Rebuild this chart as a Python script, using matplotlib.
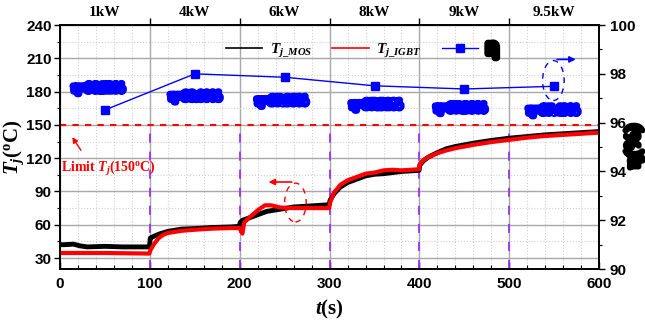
import matplotlib
matplotlib.use("Agg")
import matplotlib.pyplot as plt
import matplotlib.patheffects as pe
from matplotlib.lines import Line2D
from matplotlib.patches import Ellipse
from matplotlib.ticker import MultipleLocator, FixedLocator, NullFormatter, FixedFormatter

plt.rcParams['mathtext.fontset'] = 'custom'
plt.rcParams['mathtext.rm'] = 'Liberation Serif:bold'
plt.rcParams['mathtext.it'] = 'Liberation Serif:italic:bold'
plt.rcParams['mathtext.bf'] = 'Liberation Serif:bold'

sans = ['Liberation Sans Narrow', 'Liberation Sans', 'DejaVu Sans']
serif = ['Liberation Serif', 'DejaVu Serif']

# junction temperature of the MOSFET
t_mos = [0, 5, 15, 22, 30, 50, 70, 90, 99.5,
         100.5, 103, 110, 120, 135, 150, 170, 190, 199.5,
         200.5, 203, 210, 220, 230, 245, 260, 280, 299.5,
         300.5, 305, 312, 320, 330, 340, 350, 360, 370, 380, 390, 399.5,
         400.5, 405, 410, 420, 430, 440, 460, 480, 500, 520, 540, 560, 580, 600]
tj_mos = [42, 42, 42.5, 41, 40, 40.5, 40, 40, 40,
          48, 49, 51.5, 54, 56, 56.5, 57.5, 58, 58.5,
          62, 64, 66, 69, 72, 74, 76, 77, 78,
          82, 88, 94, 98, 101, 104, 105.5, 106, 107, 108, 108.5, 109,
          114, 118, 121, 125, 128.5, 130.5, 133.5, 136, 138, 139.5, 141, 142, 143, 144]

# junction temperature of the IGBT
t_igbt = [0, 50, 99.5,
          100.5, 105, 110, 115, 120, 135, 150, 170, 190, 199.5,
          201, 203, 205, 210, 220, 228, 235, 245, 260, 280, 299.5,
          300.5, 305, 312, 320, 330, 340, 350, 360, 370, 380, 390, 399.5,
          400.5, 405, 410, 420, 430, 440, 460, 480, 500, 520, 540, 560, 580, 600]
tj_igbt = [34.5, 34.5, 34,
           37, 43, 48, 51, 52.5, 54.5, 55.5, 56.5, 57, 57,
           55, 52, 62, 66, 73, 77.5, 77.5, 75.5, 75, 75, 75,
           80, 89, 96, 100, 103, 106, 107, 109, 109.5, 109, 109.5, 110,
           115, 118.5, 121, 124.5, 127, 129, 132, 134.5, 136.5, 138.5, 140, 141, 142, 143]

# efficiency at each load step
t_eff = [50, 150, 250, 350, 450, 550]
eff = [96.52, 98.00, 97.86, 97.51, 97.38, 97.49]
eff_label_x = [43, 151, 247, 352, 446, 549]
eff_label_y = [183, 175.5, 171.5, 168, 165, 163]

power_labels = ['1kW', '4kW', '6kW', '8kW', '9kW', '9.5kW']
step_edges = [100, 200, 300, 400, 500]
t_limit = 150

fig = plt.figure(figsize=(6.45, 3.25), dpi=100)
ax = fig.add_axes([0.093, 0.172, 0.836, 0.751])
ax2 = ax.twinx()

ax.set_xlim(0, 600)
ax.set_ylim(20, 240)
ax2.set_ylim(90, 100)

# grids
ax.xaxis.set_major_locator(MultipleLocator(100))
ax.xaxis.set_minor_locator(MultipleLocator(20))
ax.yaxis.set_major_locator(FixedLocator(range(30, 241, 30)))
ax.yaxis.set_minor_locator(FixedLocator(range(45, 241, 30)))
ax.grid(which='major', color='#a8a8a8', lw=1.0, ls='-')
ax.grid(which='minor', color='#d0d0d0', lw=0.8, ls=':')
ax.set_axisbelow(True)

# load-step boundaries and the temperature limit
for x in step_edges:
    ax.plot([x, x], [20, t_limit], color='#9b30ff', lw=1.3, ls=(0, (5, 5)), zorder=2)
ax.axhline(t_limit, color='red', lw=1.5, ls=(0, (3, 3)), zorder=2)

ax.plot(t_mos, tj_mos, color='black', lw=3.5, solid_joinstyle='round', zorder=3)
ax.plot(t_igbt, tj_igbt, color='red', lw=3.0, solid_joinstyle='round', zorder=4)

ax2.plot(t_eff, eff, color='blue', lw=1.0, marker='s', ms=6, zorder=5)

for x, y, v in zip(eff_label_x, eff_label_y, eff):
    ax.text(x, y, 'η=%.2f%%' % v, color='blue', fontsize=8.5, fontweight='bold',
            ha='center', va='center', family=serif,
            path_effects=[pe.withStroke(linewidth=5, foreground='blue')])

# annotations
ax.text(1, 111, r'Limit $T_j$(150$^{\rm o}$C)', color='red', fontsize=10,
        fontweight='bold', family=serif, ha='left', va='center')
ax.annotate('', xy=(12, 141), xytext=(25, 125),
            arrowprops=dict(arrowstyle='-|>', color='red', lw=1.0, mutation_scale=8))
ax.add_patch(Ellipse((262, 80), 24, 35, fill=False, ec='red', lw=1.0, ls=(0, (4, 4)), zorder=6))
ax.annotate('', xy=(229, 98.5), xytext=(261, 98.5),
            arrowprops=dict(arrowstyle='-|>', color='red', lw=1.2, mutation_scale=9))
ax.add_patch(Ellipse((549, 190), 24, 36, fill=False, ec='blue', lw=1.0, ls=(0, (4, 4)), zorder=6))
ax.annotate('', xy=(577, 209), xytext=(550, 209),
            arrowprops=dict(arrowstyle='-|>', color='blue', lw=1.2, mutation_scale=9))

# ticks
ax.tick_params(axis='x', which='major', direction='in', length=5, width=1, pad=6)
ax.tick_params(axis='x', which='minor', direction='in', length=3, width=0.8)
ax.tick_params(axis='y', which='major', direction='out', length=4, width=1, pad=2)
ax.tick_params(axis='y', which='minor', direction='out', length=2.5, width=0.8)
ax2.yaxis.set_major_locator(MultipleLocator(2))
ax2.yaxis.set_minor_locator(MultipleLocator(1))
ax2.tick_params(axis='y', which='major', direction='out', length=4, width=1)
ax2.tick_params(axis='y', which='minor', direction='out', length=2.5, width=0.8)
for a in (ax, ax2):
    for lab in a.get_xticklabels() + a.get_yticklabels():
        lab.set_family(sans)
        lab.set_fontweight('bold')
        lab.set_fontsize(11)
    for s in a.spines.values():
        s.set_linewidth(1.2)

# power levels along the top
top = ax.secondary_xaxis('top')
top.xaxis.set_major_locator(FixedLocator(step_edges))
top.xaxis.set_major_formatter(NullFormatter())
top.xaxis.set_minor_locator(FixedLocator(t_eff))
top.xaxis.set_minor_formatter(FixedFormatter(power_labels))
top.tick_params(which='major', direction='out', length=5, width=1)
top.tick_params(which='minor', length=0, pad=4)
for lab in top.get_xticklabels(minor=True):
    lab.set_family(serif)
    lab.set_fontweight('bold')
    lab.set_fontsize(11)

ax.set_xlabel(r'$t$(s)', fontsize=15, family=serif, fontweight='bold', labelpad=5)
ax.set_ylabel(r'$T_j$($^{\rm o}$C)', fontsize=15, family=serif, fontweight='bold', labelpad=0)
fig.text(0.983, 0.55, 'η(%)', fontsize=14, family=serif, fontweight='bold',
         rotation=90, ha='center', va='center',
         path_effects=[pe.withStroke(linewidth=4, foreground='black')])

# legend with thin sample lines
handles = [Line2D([], [], color='black', lw=1.2),
           Line2D([], [], color='red', lw=1.2),
           Line2D([], [], color='blue', lw=1.0, marker='s', ms=6)]
labels = [r'$T_{j\_MOS}$', r'$T_{j\_IGBT}$', 'η']
leg = ax.legend(handles, labels, loc='upper center', bbox_to_anchor=(0.56, 1.0),
                ncol=3, frameon=False, fontsize=11, handlelength=2.4, columnspacing=1.3,
                handletextpad=0.5)
leg.get_texts()[2].set_path_effects([pe.withStroke(linewidth=5, foreground='black')])
leg.get_texts()[2].set_fontsize(14)
leg.set_zorder(10)

fig.savefig('out.png', dpi=100)
